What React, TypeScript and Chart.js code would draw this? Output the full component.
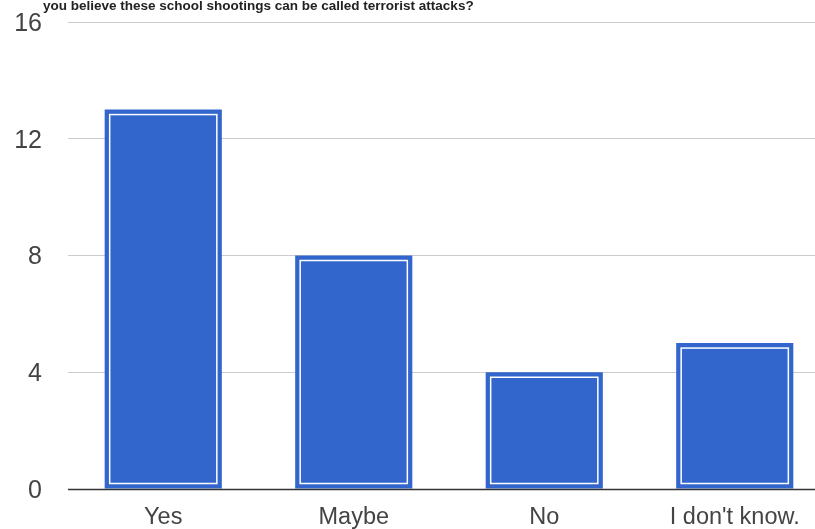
import React, { useEffect, useRef } from "react";
import { Chart, registerables } from "chart.js";

Chart.register(...registerables);

const categories: string[] = ["Yes", "Maybe", "No", "I don't know."];
const counts: number[] = [13, 8, 4, 5];
const yTickValues: number[] = [0, 4, 8, 12, 16];
const titleText = "you believe these school shootings can be called terrorist attacks?";

const BLUE = "#3366CC";

const decoPlugin = {
  id: "deco",
  afterDatasetsDraw(chart: any) {
    const ctx = chart.ctx;
    const meta = chart.getDatasetMeta(0);
    ctx.save();
    ctx.strokeStyle = "#ffffff";
    ctx.lineWidth = 1.5;
    meta.data.forEach((bar: any) => {
      const p = bar.getProps(["x", "y", "base", "width"], true);
      const l = p.x - p.width / 2;
      ctx.strokeRect(l + 5, p.y + 5, p.width - 10, p.base - p.y - 10);
    });
    const yScale = chart.scales.y;
    const y0 = Math.round(yScale.getPixelForValue(0)) + 0.5;
    ctx.strokeStyle = "#333333";
    ctx.lineWidth = 1.5;
    ctx.beginPath();
    ctx.moveTo(chart.chartArea.left, y0);
    ctx.lineTo(chart.chartArea.right, y0);
    ctx.stroke();
    ctx.restore();
  },
  afterDraw(chart: any) {
    const ctx = chart.ctx;
    ctx.save();
    ctx.font = "bold 13.5px 'Liberation Sans', Arial, sans-serif";
    ctx.fillStyle = "#222222";
    ctx.textBaseline = "alphabetic";
    ctx.textAlign = "left";
    ctx.fillText(titleText, chart.chartArea.left - 25, 9.5);

    // y-axis tick labels, positioned through the y scale
    const yScale = chart.scales.y;
    ctx.font = "25px 'Liberation Sans', Arial, sans-serif";
    ctx.fillStyle = "#444444";
    ctx.textAlign = "right";
    ctx.textBaseline = "middle";
    yTickValues.forEach((v) => {
      ctx.fillText(String(v), chart.chartArea.left - 26, yScale.getPixelForValue(v) + 2);
    });
    ctx.restore();
  },
};

export default function App() {
  const ref = useRef<HTMLCanvasElement | null>(null);
  useEffect(() => {
    document.body.style.margin = "0";
    document.body.style.overflow = "hidden";
    const chart = new Chart(ref.current!, {
      type: "bar",
      data: {
        labels: categories,
        datasets: [
          {
            data: counts,
            backgroundColor: BLUE,
            borderWidth: 0,
            barPercentage: 0.615,
            categoryPercentage: 1,
          },
        ],
      },
      options: {
        animation: false,
        responsive: false,
        devicePixelRatio: 1,
        layout: { padding: { top: 22, left: 0, right: 0, bottom: 0 } },
        plugins: { legend: { display: false }, tooltip: { enabled: false }, title: { display: false } },
        scales: {
          x: {
            grid: { display: false },
            border: { display: false },
            ticks: {
              color: "#444444",
              padding: 6,
              font: { family: "'Liberation Sans', Arial", size: 23.5 },
            },
            afterFit(scale: any) {
              scale.height = 40;
              scale.paddingLeft = 0;
              scale.paddingRight = 0;
            },
          },
          y: {
            min: 0,
            max: 16,
            afterBuildTicks(scale: any) {
              scale.ticks = yTickValues.map((v) => ({ value: v }));
            },
            grid: { color: "#cccccc", lineWidth: 1, drawTicks: false },
            border: { display: false },
            ticks: { display: false },
            afterFit(scale: any) {
              scale.width = 68;
              scale.paddingTop = 0;
              scale.paddingBottom = 0;
            },
          },
        },
      },
      plugins: [decoPlugin],
    });
    return () => chart.destroy();
  }, []);
  return (
    <div style={{ position: "fixed", left: 0, top: 0, width: 815, height: 529, overflow: "hidden" }}>
      <canvas ref={ref} width={830} height={529} style={{ display: "block" }} />
    </div>
  );
}
